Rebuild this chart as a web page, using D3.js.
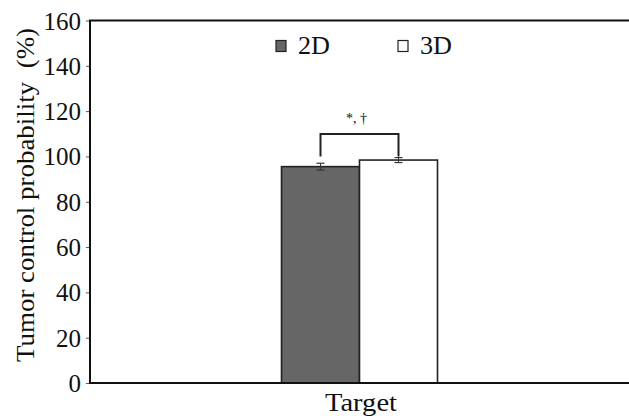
<!DOCTYPE html>
<html><head><meta charset="utf-8">
<script src="https://cdn.jsdelivr.net/npm/d3@7"></script>
<style>body{margin:0;background:#fff}svg{display:block}</style>
</head><body><div id="c"></div>
<script>
const categories = ["Target"];
const series = ["2D", "3D"];
const values2D = [95.5];
const values3D = [98.4];
const err2D = [1.5];
const err3D = [1.1];
const yTicks = [0, 20, 40, 60, 80, 100, 120, 140, 160];
const sigLabel = "*, \u2020";
const colors = {"2D": "#666666", "3D": "#ffffff"};
const FONT = "Liberation Serif, Times New Roman, serif";

const W = 629, H = 416;
const m = {l: 90, r: -1, t: 20.5, b: 33};
const svg = d3.select("#c").append("svg").attr("width", W).attr("height", H)
  .attr("font-family", FONT).attr("fill", "#111");
const iw = W - m.l - m.r, ih = H - m.t - m.b;
const g = svg.append("g").attr("transform", `translate(${m.l},${m.t})`);

const x0 = d3.scaleBand().domain(categories).range([0, iw]).paddingInner(0).paddingOuter(0);
const groupW = 156;
const x1 = d3.scaleBand().domain(series).range([0, groupW]).padding(0);
const y = d3.scaleLinear().domain([0, 160]).range([ih, 0]);

const data = categories.map((c, i) => ({cat: c, vals: [
  {s: "2D", v: values2D[i], e: err2D[i]},
  {s: "3D", v: values3D[i], e: err3D[i]}]}));

const grp = g.selectAll(".grp").data(data).join("g")
  .attr("transform", d => `translate(${x0(d.cat) + x0.bandwidth()/2 - groupW/2 - 0.5},0)`);

grp.selectAll("rect").data(d => d.vals).join("rect")
  .attr("x", d => x1(d.s)).attr("width", x1.bandwidth())
  .attr("y", d => y(d.v)).attr("height", d => y(0) - y(d.v))
  .attr("fill", d => colors[d.s]).attr("stroke", "#222").attr("stroke-width", 1.6);

// error bars
const eb = grp.selectAll(".eb").data(d => d.vals).join("g").attr("class", "eb");
eb.append("line").attr("x1", d => x1(d.s) + x1.bandwidth()/2).attr("x2", d => x1(d.s) + x1.bandwidth()/2)
  .attr("y1", d => y(d.v + d.e)).attr("y2", d => y(d.v - d.e)).attr("stroke", "#333").attr("stroke-width", 1);
[1, -1].forEach(sg => {
  eb.append("line").attr("x1", d => x1(d.s) + x1.bandwidth()/2 - 4).attr("x2", d => x1(d.s) + x1.bandwidth()/2 + 4)
    .attr("y1", d => y(d.v + sg*d.e)).attr("y2", d => y(d.v + sg*d.e)).attr("stroke", "#333").attr("stroke-width", 1.2);
});

// significance bracket
grp.each(function(d) {
  const gg = d3.select(this);
  const xa = x1("2D") + x1.bandwidth()/2, xb = x1("3D") + x1.bandwidth()/2;
  const top = y(d3.max(d.vals, v => v.v)) - 26;
  const endY = top + 22.5;
  gg.append("path").attr("d", `M${xa},${endY}V${top}H${xb}V${endY}`)
    .attr("fill", "none").attr("stroke", "#222").attr("stroke-width", 2);
  gg.append("text").attr("x", (xa + xb)/2 - 3).attr("y", top - 11).attr("text-anchor", "middle")
    .attr("font-family", FONT).attr("font-size", 14).attr("fill", "#111").text(sigLabel);
});

// axes frame
const yAxisL = d3.axisLeft(y).tickValues(yTicks).tickSize(4).tickPadding(5);
const ga = g.append("g").call(yAxisL).attr("font-size", 25).attr("font-family", FONT);
ga.select(".domain").remove();
ga.selectAll(".tick line").attr("stroke", "#555").attr("stroke-width", 1);
ga.selectAll(".tick text").attr("font-size", 25).attr("font-family", FONT).attr("fill", "#111").attr("dy", "0.34em");

const gr = g.append("g").attr("transform", `translate(${iw},0)`)
  .call(d3.axisLeft(y).tickValues(yTicks.slice(1, -1)).tickSize(-4).tickFormat(""));
gr.select(".domain").remove();
gr.selectAll(".tick line").attr("stroke", "#555").attr("stroke-width", 1);

g.append("line").attr("x1", 0).attr("x2", 0).attr("y1", 0).attr("y2", ih).attr("stroke", "#111").attr("stroke-width", 2);
g.append("line").attr("x1", -1).attr("x2", iw).attr("y1", 0).attr("y2", 0).attr("stroke", "#111").attr("stroke-width", 2);
g.append("line").attr("x1", -1).attr("x2", iw).attr("y1", ih).attr("y2", ih).attr("stroke", "#111").attr("stroke-width", 2);

// x label
g.append("text").attr("x", x0("Target") + x0.bandwidth()/2 + 1).attr("y", ih + 28)
  .attr("text-anchor", "middle").attr("font-family", FONT).attr("font-size", 25).attr("fill", "#111")
  .attr("textLength", 72).attr("lengthAdjust", "spacingAndGlyphs").text(categories[0]);

// y title
svg.append("text").attr("transform", `translate(34,195) rotate(-90)`)
  .attr("text-anchor", "middle").attr("font-family", FONT).attr("font-size", 25).attr("fill", "#111")
  .attr("xml:space", "preserve")
  .attr("textLength", 334).attr("lengthAdjust", "spacingAndGlyphs")
  .text("Tumor control probability  (%)");

// legend
const lg = svg.append("g");
const legX = [276, 398];
series.forEach((s, i) => {
  lg.append("rect").attr("x", legX[i]).attr("y", 40.5).attr("width", 10).attr("height", 11)
    .attr("fill", colors[s]).attr("stroke", "#222").attr("stroke-width", 1.2);
  lg.append("text").attr("x", legX[i] + 22).attr("y", 53.5).attr("font-family", FONT).attr("font-size", 25)
    .attr("fill", "#111").attr("textLength", 32).attr("lengthAdjust", "spacingAndGlyphs").text(s);
});
</script></body></html>
